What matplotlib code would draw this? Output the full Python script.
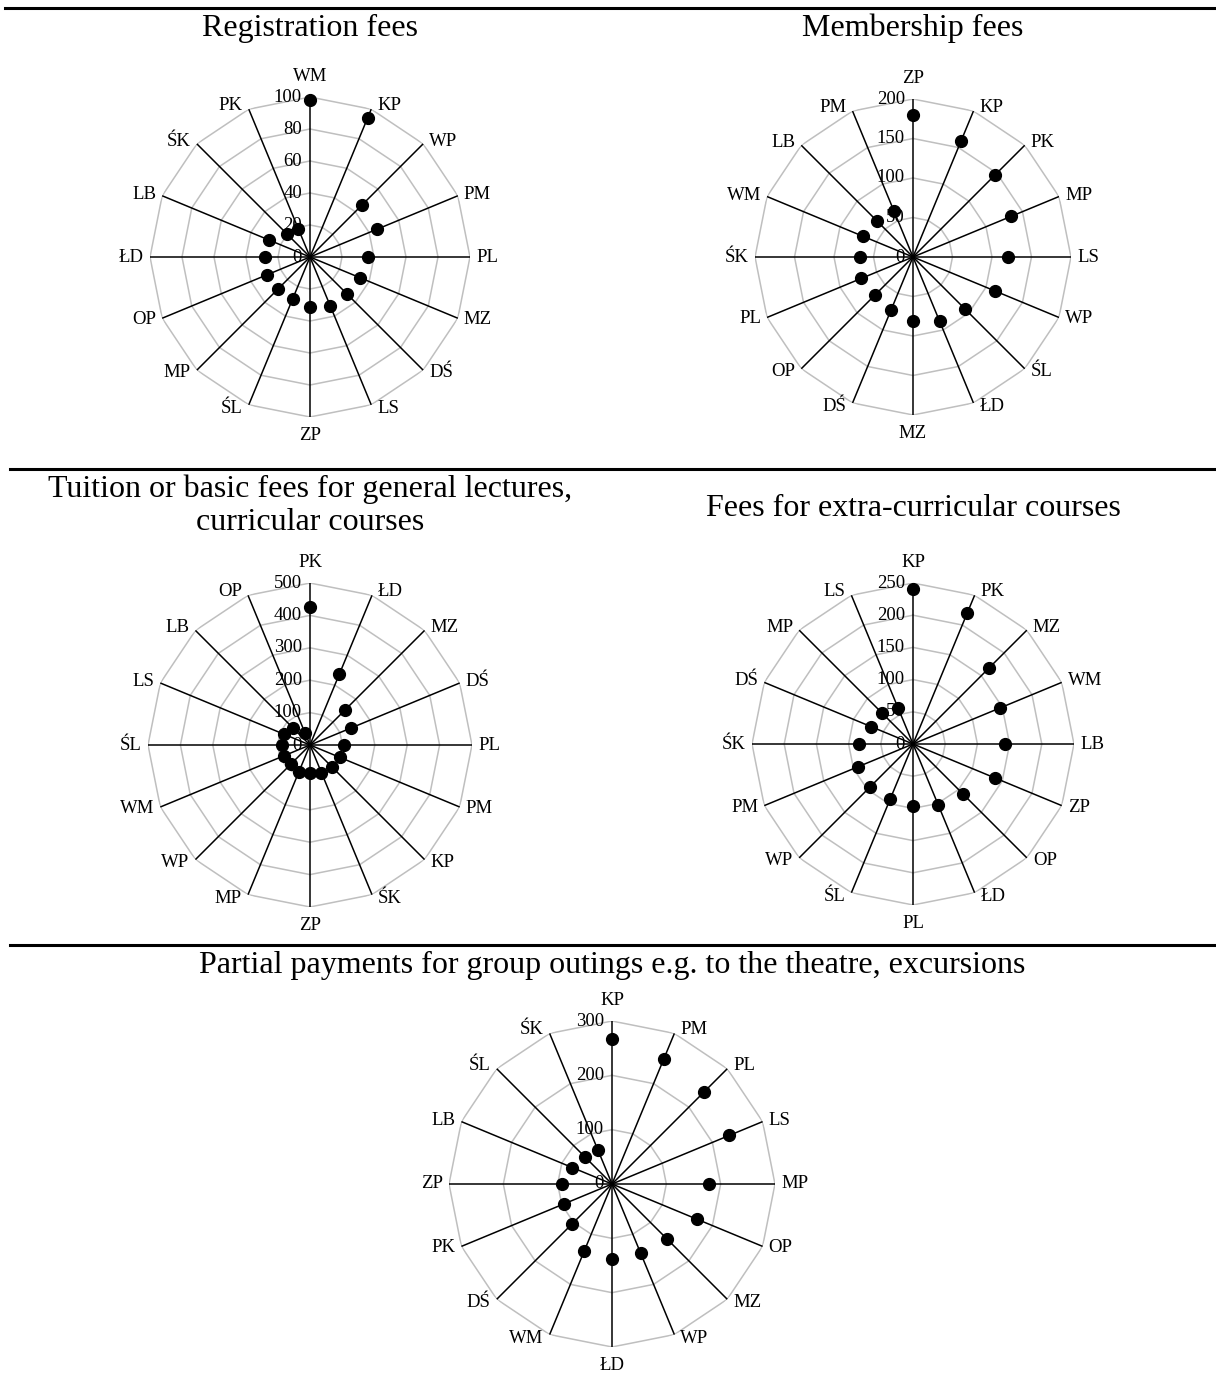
import numpy as np
import matplotlib.pyplot as plt
from matplotlib.lines import Line2D

plt.rcParams['font.family'] = ['Liberation Serif', 'DejaVu Serif']

# voivodeship codes, clockwise from the top, and values for each fee type
reg_labels = ["WM", "KP", "WP", "PM", "PL", "MZ", "DŚ", "LS", "ZP", "ŚL", "MP", "OP", "ŁD", "LB", "ŚK", "PK"]
reg_values = [98, 94, 46, 45, 36, 34, 33, 33, 31, 28.5, 28.5, 29, 28, 27.5, 20.5, 19]

mem_labels = ["ZP", "KP", "PK", "MP", "LS", "WP", "ŚL", "ŁD", "MZ", "DŚ", "OP", "PL", "ŚK", "WM", "LB", "PM"]
mem_values = [180, 159, 146, 134, 120, 112, 93, 88, 81, 73, 68, 71, 67, 68, 65, 63]

tui_labels = ["PK", "ŁD", "MZ", "DŚ", "PL", "PM", "KP", "ŚK", "ZP", "MP", "WP", "WM", "ŚL", "LS", "LB", "OP"]
tui_values = [426, 236, 153, 136, 106, 99, 95, 92, 85, 90, 83, 86, 85, 86, 73, 39]

ext_labels = ["KP", "PK", "MZ", "WM", "LB", "ZP", "OP", "ŁD", "PL", "ŚL", "WP", "PM", "ŚK", "DŚ", "MP", "LS"]
ext_values = [241, 221, 166, 147, 143, 137, 109, 103, 96, 92, 95, 93, 84, 71, 67, 61]

out_labels = ["KP", "PM", "PL", "LS", "MP", "OP", "MZ", "WP", "ŁD", "WM", "DŚ", "PK", "ZP", "LB", "ŚL", "ŚK"]
out_values = [266, 250, 240, 234, 178, 170, 142, 138, 138, 134, 103, 95, 92, 79, 71, 68]

W, H = 1216, 1378


def radar(cx, cy, rad, labels, values, ticks, title, ty, fs=13.5):
    ax = fig.add_axes([(cx - rad) / W, 1 - (cy + rad) / H, 2 * rad / W, 2 * rad / H],
                      projection='polar')
    ax.set_theta_zero_location('N')
    ax.set_theta_direction(-1)
    rmax = ticks[-1]
    ax.set_ylim(0, rmax)
    ax.grid(False)
    ax.spines['polar'].set_visible(False)
    ax.set_xticks([])
    ax.set_yticks([])
    ax.patch.set_alpha(0)

    n = len(labels)
    th = np.arange(n) * 2 * np.pi / n
    ring_th = np.append(th, th[0])
    for t in ticks[1:]:
        ax.plot(ring_th, [t] * (n + 1), color='#BFBFBF', lw=1.1, zorder=1)
    for a in th:
        ax.plot([a, a], [0, rmax], color='black', lw=1.1, zorder=2)
    ax.plot(th, values, 'o', color='black', ms=8.5, ls='none', zorder=4, clip_on=False)

    for t in ticks:
        ax.annotate(str(t), (0, t), xytext=(-8, 0), textcoords='offset pixels',
                    ha='right', va='center', fontsize=fs, zorder=3)

    for a, lab in zip(th, labels):
        s, c = np.sin(a), np.cos(a)
        if abs(s) < 1e-6:
            if c > 0:
                off, ha, va = (0, 12), 'center', 'bottom'
            else:
                off, ha, va = (0, -10), 'center', 'top'
        else:
            off = (6 * np.sign(s), 4 * c)
            ha = 'left' if s > 0 else 'right'
            va = 'center'
        ax.annotate(lab, (a, rmax), xytext=off, textcoords='offset pixels',
                    ha=ha, va=va, fontsize=fs, annotation_clip=False)

    fig.text(cx / W, 1 - ty / H, title, ha='center', va='center', fontsize=23,
             linespacing=1.2)
    return ax


fig = plt.figure(figsize=(W / 100, H / 100), dpi=100)

radar(310, 257, 160, reg_labels, reg_values, [0, 20, 40, 60, 80, 100],
      "Registration fees", 28)
radar(913, 257, 158, mem_labels, mem_values, [0, 50, 100, 150, 200],
      "Membership fees", 28)
radar(310, 745, 162, tui_labels, tui_values, [0, 100, 200, 300, 400, 500],
      "Tuition or basic fees for general lectures,\ncurricular courses", 506)
radar(913, 744, 161, ext_labels, ext_values, [0, 50, 100, 150, 200, 250],
      "Fees for extra-curricular courses", 508)
radar(612, 1184, 163, out_labels, out_values, [0, 100, 200, 300],
      "Partial payments for group outings e.g. to the theatre, excursions", 965)

# horizontal rules between the rows
for y, x0 in [(8, 5), (469, 10), (945, 10)]:
    fig.add_artist(Line2D([x0 / W, 1], [1 - y / H, 1 - y / H], color='black', lw=2.2))

fig.savefig('out.png', dpi=100, facecolor='white')
